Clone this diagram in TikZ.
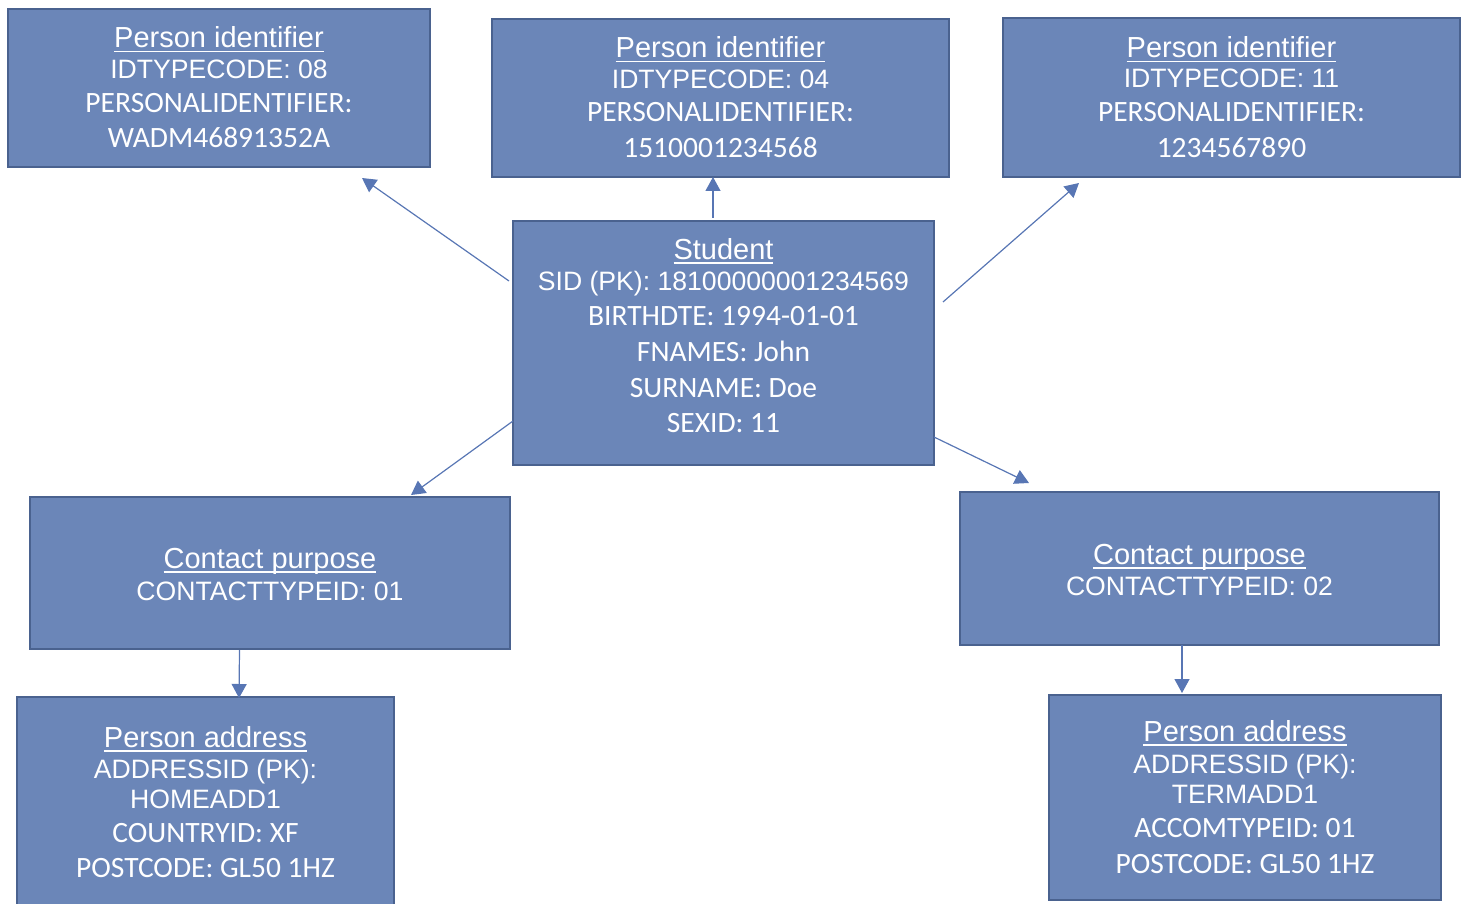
\documentclass[tikz,border=0pt]{standalone}
\usepackage{fontspec}
\setmainfont{Liberation Sans}
\newfontfamily\arialf{Liberation Sans}
\newfontfamily\calf{Carlito}
\usetikzlibrary{arrows.meta}
\definecolor{boxfill}{RGB}{107,134,184}
\definecolor{boxline}{RGB}{74,98,143}
\definecolor{arrowc}{RGB}{88,118,180}
\newcommand\myul[1]{\setbox0\hbox{#1}\rlap{\rule[-4.5pt]{\wd0}{1.8pt}}\box0}
\tikzset{
  box/.style={draw=boxline, fill=boxfill, line width=2.4pt, inner sep=0pt, outer sep=0pt},
  ttl/.style={anchor=base, text=white, inner sep=0pt, font=\arialf\fontsize{29}{34}\selectfont},
  ar/.style={anchor=base, text=white, inner sep=0pt, font=\arialf\fontsize{26.6}{31}\selectfont},
  cb/.style={anchor=base, text=white, inner sep=0pt, font=\calf\fontsize{29.5}{34}\selectfont},
  conn/.style={draw=arrowc, line width=1.2pt, -{Triangle[length=14pt,width=15pt]}}
}
\begin{document}
\begin{tikzpicture}[x=1pt,y=-1pt]
\useasboundingbox (0,0) rectangle (1467,904);
% boxes
\node[box, minimum width=422pt, minimum height=158pt] (b1) at (219,88) {};
\node[box, minimum width=457pt, minimum height=158pt] (b2) at (720.5,98) {};
\node[box, minimum width=457pt, minimum height=159pt] (b3) at (1231.5,97.5) {};
\node[box, minimum width=421pt, minimum height=244pt] (st) at (723.5,343) {};
\node[box, minimum width=480pt, minimum height=152pt] (c1) at (270,573) {};
\node[box, minimum width=479pt, minimum height=153pt] (c2) at (1199.5,568.5) {};
\node[box, minimum width=377pt, minimum height=230pt] (p1) at (205.5,812) {};
\node[box, minimum width=392pt, minimum height=205pt] (p2) at (1245,797.5) {};
% texts box 1
\node[ttl] (b1l1) at (219,48) {\myul{Person identifier}};
\node[ar] (b1l2) at (219,79) {IDTYPECODE: 08};
\node[cb] (b1l3) at (219,113) {PERSONALIDENTIFIER:};
\node[cb] (b1l4) at (219,148) {WADM46891352A};
% box 2
\node[ttl] (b2l1) at (720.5,58) {\myul{Person identifier}};
\node[ar] (b2l2) at (720.5,89) {IDTYPECODE: 04};
\node[cb] (b2l3) at (720.5,122) {PERSONALIDENTIFIER:};
\node[cb] (b2l4) at (720.5,158) {1510001234568};
% box 3
\node[ttl] (b3l1) at (1231.5,58) {\myul{Person identifier}};
\node[ar] (b3l2) at (1231.5,88) {IDTYPECODE: 11};
\node[cb] (b3l3) at (1231.5,122) {PERSONALIDENTIFIER:};
\node[cb] (b3l4) at (1231.5,158) {1234567890};
% student
\node[ttl] (stl1) at (723.5,259) {\myul{Student}};
\node[ar] (stl2) at (723.5,290) {SID (PK): 18100000001234569};
\node[cb] (stl3) at (723.5,325) {BIRTHDTE: 1994-01-01};
\node[cb] (stl4) at (723.5,361) {FNAMES: John};
\node[cb] (stl5) at (723.5,397) {SURNAME: Doe};
\node[cb] (stl6) at (723.5,432) {SEXID: 11};
% contact purpose
\node[ttl] (c1l1) at (270,568) {\myul{Contact purpose}};
\node[ar] (c1l2) at (270,600) {CONTACTTYPEID: 01};
\node[ttl] (c2l1) at (1199.5,564) {\myul{Contact purpose}};
\node[ar] (c2l2) at (1199.5,595) {CONTACTTYPEID: 02};
% person address 1
\node[ttl] (p1l1) at (205.5,747) {\myul{Person address}};
\node[ar] (p1l2) at (205.5,778) {ADDRESSID (PK):};
\node[ar] (p1l3) at (205.5,808) {HOMEADD1};
\node[cb] (p1l4) at (205.5,842) {COUNTRYID: XF};
\node[cb] (p1l5) at (205.5,877) {POSTCODE: GL50 1HZ};
% person address 2
\node[ttl] (p2l1) at (1245,741) {\myul{Person address}};
\node[ar] (p2l2) at (1245,773) {ADDRESSID (PK):};
\node[ar] (p2l3) at (1245,803) {TERMADD1};
\node[cb] (p2l4) at (1245,837) {ACCOMTYPEID: 01};
\node[cb] (p2l5) at (1245,873) {POSTCODE: GL50 1HZ};
% connector end points
\coordinate (a1s) at (509,281); \coordinate (a1e) at (362,178);
\coordinate (a2s) at (713,218); \coordinate (a2e) at (713,177);
\coordinate (a3s) at (943,302); \coordinate (a3e) at (1079,183);
\coordinate (a4s) at (513,421); \coordinate (a4e) at (411,495);
\coordinate (a5s) at (934,437); \coordinate (a5e) at (1029,483);
\coordinate (a6s) at (239.5,650); \coordinate (a6e) at (239,698);
\coordinate (a7s) at (1182,645); \coordinate (a7e) at (1182,693);
\draw[conn] (a1s) -- (a1e);
\draw[conn] (a2s) -- (a2e);
\draw[conn] (a3s) -- (a3e);
\draw[conn] (a4s) -- (a4e);
\draw[conn] (a5s) -- (a5e);
\draw[conn] (a6s) -- (a6e);
\draw[conn] (a7s) -- (a7e);
\end{tikzpicture}
\end{document}
